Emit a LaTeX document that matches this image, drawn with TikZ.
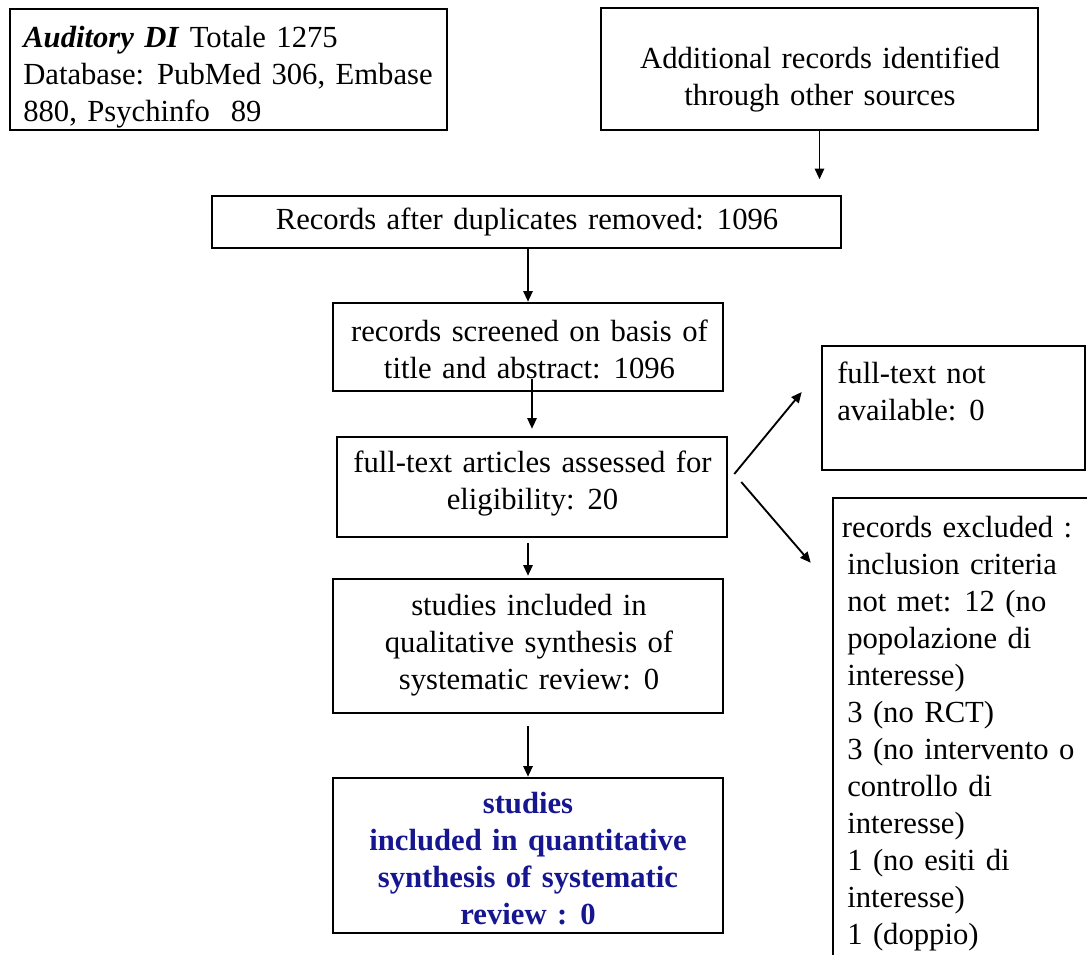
\documentclass[tikz,border=0pt]{standalone}
\usepackage{fontspec}
\setmainfont{Liberation Serif}
\usetikzlibrary{arrows.meta,calc}
\definecolor{navyblue}{RGB}{22,22,145}
\newcommand{\boxfont}{\fontsize{23}{27.75}\selectfont\spaceskip=0.34em\relax}
\tikzset{
  box/.style={draw, rectangle, line width=1.9pt, inner sep=0pt},
  txt/.style={inner sep=0pt, font=\boxfont},
  arr/.style={line width=1.4pt, -{Triangle[length=8pt,width=7pt]}},
}
\begin{document}
\begin{tikzpicture}[x=0.75pt,y=-0.75pt]
\clip (0,0) rectangle (1087,955);
\fill[white] (0,0) rectangle (1087,955);

% frames
\node[box, minimum width=327.75pt, minimum height=90.75pt] (b1) at (228.5,69.5) {};
\node[box, minimum width=327.75pt, minimum height=91.5pt]  (b2) at (819.5,69) {};
\node[box, minimum width=471.75pt, minimum height=39pt]    (b3) at (526.5,222) {};
\node[box, minimum width=292.5pt,  minimum height=66pt]    (b4) at (528,347) {};
\node[box, minimum width=292.5pt,  minimum height=75pt]    (b5) at (532,487) {};
\node[box, minimum width=292.5pt,  minimum height=100.5pt] (b6) at (528,646) {};
\node[box, minimum width=292.5pt,  minimum height=116.25pt](b7) at (528,855.5) {};
\node[box, minimum width=197.25pt, minimum height=93pt]    (b8) at (953.5,408) {};
\node[box, minimum width=196.5pt,  minimum height=357.75pt](b9) at (964,736.5) {};

% texts
\node[txt, anchor=west, align=left] (t1) at (23,77.5)
  {\textbf{\textit{Auditory DI}} Totale 1275\\Database: PubMed 306, Embase\\880, Psychinfo~ 89};
\node[txt, align=center] (t2) at (820,80)
  {Additional records identified\\through other sources};
\node[txt, align=center] (t3) at (527,222)
  {Records after duplicates removed: 1096};
\node[txt, align=center] (t4) at (529.5,349.5)
  {records screened on basis of\\title and abstract: 1096};
\node[txt, align=center] (t5) at (532.5,483.5)
  {full-text articles assessed for\\eligibility: 20};
\node[txt, align=center] (t6) at (529,645)
  {studies included in\\qualitative synthesis of\\systematic review: 0};
\node[txt, align=center, text=navyblue, font=\boxfont\bfseries] (t7) at (528,858.5)
  {studies\\included in quantitative\\synthesis of systematic\\review : 0};
\node[txt, anchor=west, align=left] (t8) at (837,391)
  {full-text not\\available: 0};
\node[txt, anchor=west, align=left] (t9) at (847,734)
  {\hspace{-4pt}records excluded :\\inclusion criteria\\not met: 12 (no\\popolazione di\\interesse)\\3 (no RCT)\\3 (no intervento o\\controllo di\\interesse)\\1 (no esiti di\\interesse)\\1 (doppio)};

% connectors
\coordinate (a3) at ($(b2.south)+(0,48)$);
\draw[arr] (b2.south) -- (a3);
\draw[arr] (b4.north |- b3.south) -- (b4.north);
\draw[arr, shorten >=5.25pt] ($(b5.north |- b4.south)+(0,-13)$) -- (b5.north);
\draw[arr, shorten <=3.75pt, shorten >=1.5pt] (b6.north |- b5.south) -- (b6.north);
\draw[arr, shorten <=9pt] (b7.north |- b6.south) -- (b7.north);
\draw[arr] ($(b5.east)+(6,-13)$) -- ($(b8.west)+(-19,-16)$);
\draw[arr] ($(b5.east)+(13,-5)$) -- ($(b9.north west)+(-21,66)$);
\end{tikzpicture}
\end{document}
